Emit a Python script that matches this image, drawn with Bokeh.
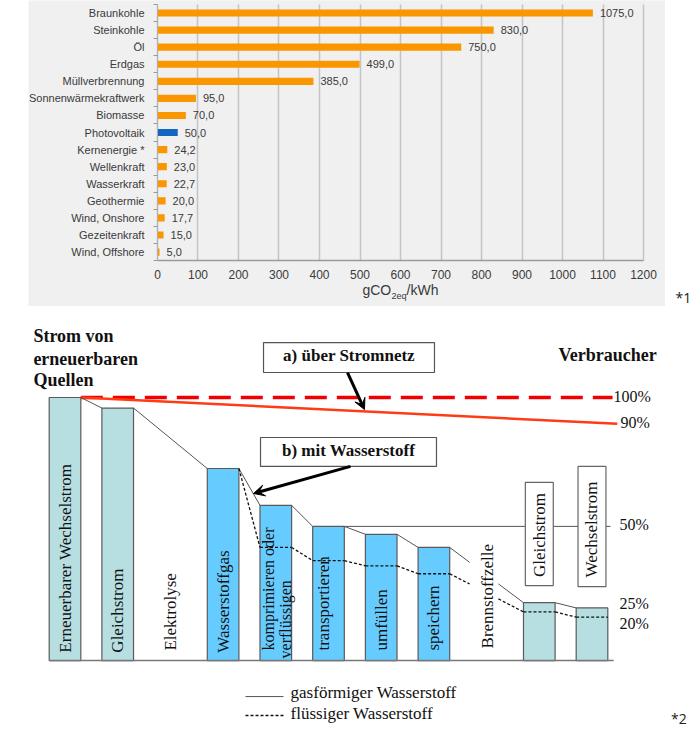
import math
from bokeh.plotting import figure
from bokeh.layouts import column, row
from bokeh.models import Range1d, FixedTicker, Arrow, VeeHead, Spacer
from bokeh.embed import file_html
from bokeh.resources import INLINE
from bokeh.core.properties import value

# ---------------- Chart 1 data ----------------
sources = ["Braunkohle", "Steinkohle", "Öl", "Erdgas", "Müllverbrennung",
           "Sonnenwärmekraftwerk", "Biomasse", "Photovoltaik", "Kernenergie *",
           "Wellenkraft", "Wasserkraft", "Geothermie", "Wind, Onshore",
           "Gezeitenkraft", "Wind, Offshore"]
emissions = [1075.0, 830.0, 750.0, 499.0, 385.0, 95.0, 70.0, 50.0, 24.2,
             23.0, 22.7, 20.0, 17.7, 15.0, 5.0]
highlight_source = "Photovoltaik"
x_ticks = [0, 100, 200, 300, 400, 500, 600, 700, 800, 900, 1000, 1100, 1200]
x_title_parts = ["gCO", "2eq", "/kWh"]
note1 = "*1"

# ---------------- Chart 2 data ----------------
stages = ["Erneuerbarer Wechselstrom", "Gleichstrom", "Elektrolyse", "Wasserstoffgas",
          "komprimieren oder verflüssigen", "transportieren", "umfüllen", "speichern",
          "Brennstoffzelle", "Gleichstrom", "Wechselstrom"]
gas_pct = [100, 96, None, 73, 59, 51, 48, 43, None, 22, 20]
liquid_pct = [None, None, None, None, 43, 38, 36, 33, None, 18.5, 16.5]
stage_kind = ["strom", "strom", None, "h2", "h2", "h2", "h2", "h2", None, "strom", "strom"]
grid_pct = [100, 90]
level_labels = ["100%", "90%", "50%", "25%", "20%"]
legend_labels = ["gasförmiger Wasserstoff", "flüssiger Wasserstoff"]
box_labels = ["a) über Stromnetz", "b) mit Wasserstoff"]
source_title = ["Strom von", "erneuerbaren", "Quellen"]
consumer_title = "Verbraucher"
note2 = "*2"

SANS = "Liberation Sans"
SERIF = "Liberation Serif"
PANEL = "#f0f0f0"

# ---------------- Figure 1 ----------------
n = len(sources)
ypos = list(range(n - 1, -1, -1))
bar_colors = ["#1466c0" if s == highlight_source else "#fa9600" for s in sources]
value_texts = [f"{v:.1f}".replace(".", ",") for v in emissions]
y_lo, y_hi = -3.19, 14.734

p1 = figure(width=637, height=306, x_range=Range1d(-318.5, 1254.3), y_range=Range1d(y_lo, y_hi),
            output_backend="svg", toolbar_location=None, min_border=0)
p1.background_fill_color = PANEL
p1.border_fill_color = PANEL
p1.outline_line_color = None

p1.xgrid.grid_line_color = "#c4c4c4"
p1.xgrid.grid_line_width = 1.5
p1.ygrid.grid_line_color = None

# panel areas outside the plotting rows (hide the grid there)
p1.quad(left=[x_ticks[0] - 5] * 2, right=[x_ticks[-1] + 5] * 2, top=[-0.5, y_hi],
        bottom=[y_lo, n - 0.5], fill_color=PANEL, line_color=None)

p1.hbar(y=ypos, left=0, right=emissions, height=0.42, fill_color=bar_colors, line_color=None)
p1.text(x=emissions, y=ypos, text=value_texts, x_offset=7, text_baseline="middle",
        text_font=value(SANS), text_font_size="11px", text_color="#3a3a3a")

xa = p1.xaxis[0]
xa.fixed_location = -0.5
xa.bounds = (x_ticks[0], x_ticks[-1])
xa.ticker = FixedTicker(ticks=x_ticks)
xa.major_tick_line_color = None
xa.minor_tick_line_color = None
xa.major_tick_out = 0
xa.major_tick_in = 0
xa.axis_line_color = "#9a9a9a"
xa.axis_line_width = 1.5
xa.major_label_text_font = SANS
xa.major_label_text_font_size = "12px"
xa.major_label_text_color = "#3a3a3a"
xa.major_label_standoff = 9

ya = p1.yaxis[0]
ya.fixed_location = 0
ya.bounds = (-0.5, n - 0.5)
ya.ticker = FixedTicker(ticks=ypos, minor_ticks=[k - 0.5 for k in range(n + 1)])
ya.major_label_overrides = {y: s for y, s in zip(ypos, sources)}
ya.major_tick_line_color = None
ya.major_tick_out = 0
ya.minor_tick_out = 4
ya.minor_tick_in = 0
ya.minor_tick_line_color = "#9a9a9a"
ya.axis_line_color = "#b0b0b0"
ya.major_label_standoff = 9
ya.major_label_text_font = SANS
ya.major_label_text_font_size = "11px"
ya.major_label_text_color = "#3a3a3a"

# x-axis title with subscript
p1.text(x=[506, 615], y=[-2.25, -2.25], text=[x_title_parts[0], x_title_parts[2]],
        text_baseline="middle", text_font=value(SANS), text_font_size="14px", text_color="#3a3a3a")
p1.text(x=[578], y=[-2.55], text=[x_title_parts[1]], text_baseline="middle",
        text_font=value(SANS), text_font_size="9px", text_color="#3a3a3a")

pstar = figure(width=33, height=306, x_range=Range1d(0, 33), y_range=Range1d(0, 306),
               x_axis_type=None, y_axis_type=None, output_backend="svg",
               toolbar_location=None, min_border=0)
pstar.outline_line_color = None
pstar.text(x=[10], y=[9], text=[note1], text_baseline="alphabetic",
           text_font=value("Open Sans"), text_font_size="14px", text_color="#222")

# ---------------- Figure 2 ----------------
hw = 0.3
bar_idx = [i for i, g in enumerate(gas_pct) if g is not None]
bar_fill = ["#b7dfe2" if stage_kind[i] == "strom" else "#66ccff" for i in bar_idx]

p2 = figure(width=698, height=424, x_range=Range1d(-1.224, 12.021), y_range=Range1d(-26.6, 134.6),
            x_axis_type=None, y_axis_type=None, output_backend="svg",
            toolbar_location=None, min_border=0)
p2.outline_line_color = None

# 50 % reference line (behind the boxes)
p2.line([5 + hw, 10.35], [gas_pct[5], gas_pct[5]], line_color="#555555", line_width=1)

p2.vbar(x=bar_idx, top=[gas_pct[i] for i in bar_idx], bottom=0, width=2 * hw,
        fill_color=bar_fill, line_color="#5a5a5a", line_width=1.2)

# baseline
p2.line([0 - hw, 10.41], [0, 0], line_color="#777777", line_width=1.5)

# grid path (über Stromnetz)
p2.line([0 + hw, 10.39], [gas_pct[0], grid_pct[0]], line_color="#f20000", line_width=3.5,
        line_dash="22 10")
p2.line([0 + hw, 10.48], [gas_pct[0], grid_pct[1]], line_color="#ff3b14", line_width=2.5)

gap_stage = 8
gap_frac = (0.27, 0.66)


def segments(points):
    xs, ys = [], []
    for (xa_, ya_), (xb_, yb_) in zip(points[:-1], points[1:]):
        if xa_ < gap_stage < xb_:
            for f0, f1 in ((0, gap_frac[0]), (gap_frac[1], 1)):
                xs.append([xa_ + (xb_ - xa_) * f0, xa_ + (xb_ - xa_) * f1])
                ys.append([ya_ + (yb_ - ya_) * f0, ya_ + (yb_ - ya_) * f1])
        else:
            xs.append([xa_, xb_])
            ys.append([ya_, yb_])
    return xs, ys


gas_points = []
for i in bar_idx:
    gas_points += [(i - hw, gas_pct[i]), (i + hw, gas_pct[i])]
gxs, gys = segments(gas_points)
gxs2, gys2 = [], []
for xs_, ys_ in zip(gxs, gys):
    if not (abs((xs_[1] - xs_[0]) - 2 * hw) < 1e-9 and ys_[0] == ys_[1]):
        gxs2.append(xs_)
        gys2.append(ys_)
p2.multi_line(gxs2, gys2, line_color="#555555", line_width=1)

liq_points = [(3 + hw, gas_pct[3])]
for i, v in enumerate(liquid_pct):
    if v is not None:
        liq_points += [(i - hw, v), (i + hw, v)]
lxs, lys = segments(liq_points)
p2.multi_line(lxs, lys, line_color="#111111", line_width=1.3, line_dash="3 2")

# boxes over 50% line
p2.quad(left=[9 - 0.265, 10 - 0.265], right=[9 + 0.265, 10 + 0.265], top=[67.7, 73.8],
        bottom=[28.5, 28.1], fill_color="white", line_color="#666666", line_width=1.2)
p2.text(x=[9, 10], y=[47.7, 49.8], text=[stages[9], stages[10]], angle=math.pi / 2,
        text_align="center", text_baseline="middle", text_font=value(SERIF),
        text_font_size="17px", text_color="#111")

# stage labels in/near bars
lab_x = [0, 1, 2, 3, 5 - 0.1, 6, 7, 8.02]
lab_y = [3.0, 3.0, 3.8, 3.0, 3.8, 3.8, 3.8, 4.6]
lab_t = [stages[0], stages[1], stages[2], stages[3], stages[5], stages[6], stages[7], stages[8]]
p2.text(x=lab_x, y=lab_y, text=lab_t, angle=math.pi / 2, text_align="left",
        text_baseline="middle", text_font=value(SERIF), text_font_size="17px", text_color="#111")
komp = stages[4].split(" ")
p2.text(x=[4 - 0.14, 4 + 0.18], y=[3.8, 0.8], text=[komp[0] + " " + komp[1], komp[2]],
        angle=math.pi / 2, text_align="left", text_baseline="middle", text_font=value(SERIF),
        text_font_size="16px", text_color="#111")

# header texts
p2.text(x=[-0.6, -0.6, -0.6], y=[119.4, 111.0, 102.7], text=source_title,
        text_font=value(SERIF), text_font_style="bold", text_font_size="18px", text_color="#111")
p2.text(x=[9.364], y=[112.5], text=[consumer_title], text_font=value(SERIF),
        text_font_style="bold", text_font_size="18px", text_color="#111")

# boxes a) b)
p2.quad(left=[3.767, 3.71], right=[7.011, 7.049], top=[120.9, 84.8], bottom=[109.5, 73.8],
        fill_color="white", line_color="#555555", line_width=1.2)
p2.text(x=[5.389, 5.38], y=[112.2, 76.4], text=box_labels, text_align="center",
        text_font=value(SERIF), text_font_style="bold", text_font_size="17px", text_color="#111")

p2.add_layout(Arrow(end=VeeHead(size=11, fill_color="black", line_color="black", line_width=1),
                    x_start=5.361, y_start=109.5, x_end=5.683, y_end=95.4,
                    line_width=3, line_color="black"))
p2.add_layout(Arrow(end=VeeHead(size=11, fill_color="black", line_color="black", line_width=1),
                    x_start=5.417, y_start=73.8, x_end=3.577, y_end=63.5,
                    line_width=3, line_color="black"))

# level labels
p2.text(x=[10.41, 10.54, 10.52, 10.52, 10.52], y=[97.3, 87.1, 48.3, 18.6, 11.0],
        text=level_labels, text_font=value(SERIF), text_font_size="16px", text_color="#111")

# legend
p2.line([3.425, 4.146], [-13.7, -13.7], line_color="#555555", line_width=1)
p2.line([3.425, 4.146], [-20.9, -20.9], line_color="#111111", line_width=1.3, line_dash="3 2")
p2.text(x=[4.28, 4.28], y=[-15.6, -23.6], text=legend_labels, text_font=value(SERIF),
        text_font_size="17px", text_color="#111")

p2.text(x=[11.5], y=[-25.5], text=[note2], text_font=value("Open Sans"), text_font_size="14px",
        text_color="#222")

layout = column(row(Spacer(width=28, height=306), p1, pstar), p2)

open("out.html", "w").write(file_html(layout, INLINE))
